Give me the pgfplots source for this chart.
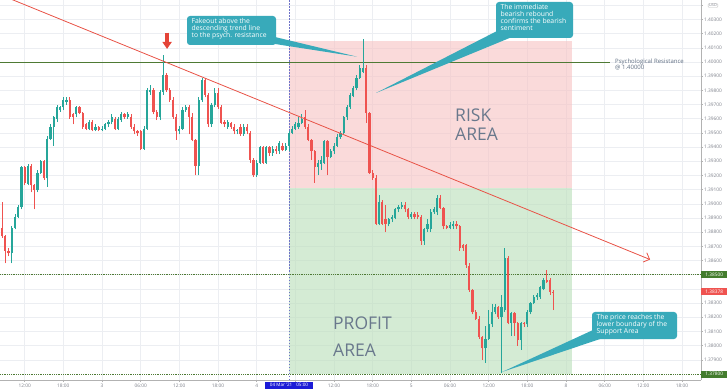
\documentclass[border=0pt]{standalone}
\usepackage{pgfplots}
\pgfplotsset{compat=1.18}
\usepackage{pgfplotstable}
\usepackage{fontspec}
\setmainfont{Open Sans}
\usetikzlibrary{arrows.meta}

\definecolor{cgreen}{RGB}{38,166,154}
\definecolor{cred}{RGB}{239,83,80}
\definecolor{riskfill}{RGB}{247,196,196}
\definecolor{profitfill}{RGB}{186,222,186}
\definecolor{levelgreen}{RGB}{78,122,52}
\definecolor{lblgreen}{RGB}{67,124,45}
\definecolor{trendred}{RGB}{232,82,70}
\definecolor{arrowred}{RGB}{228,68,56}
\definecolor{callout}{RGB}{56,170,186}
\definecolor{areatext}{RGB}{105,120,140}
\definecolor{psych}{RGB}{95,110,130}
\definecolor{tickgray}{RGB}{125,128,138}
\definecolor{gridc}{RGB}{236,238,242}
\definecolor{xhair}{RGB}{28,28,215}
\definecolor{xhairline}{RGB}{110,115,200}

\pgfplotstableread{
x o h l c
3 1.3865 1.3884 1.3858 1.3883
4 1.3883 1.3893 1.3882 1.3891
5 1.3891 1.3899 1.3890 1.3898
6 1.3898 1.3927 1.3896 1.3926
8 1.3914 1.3928 1.3913 1.3927
11 1.3910 1.3924 1.3908 1.3922
12 1.3922 1.3931 1.3921 1.3930
14 1.3918 1.3948 1.3912 1.3946
15 1.3946 1.3956 1.3945 1.3954
16 1.3954 1.3962 1.3941 1.3961
17 1.3960 1.3970 1.3958 1.3968
18 1.3966 1.3969 1.3965 1.3968
19 1.3968 1.3975 1.3966 1.3973
20 1.3972 1.3975 1.3970 1.3973
23 1.3963 1.3969 1.3961 1.3968
27 1.3953 1.3959 1.3952 1.3958
29 1.3952 1.3956 1.3951 1.3954
31 1.3952 1.3955 1.3951 1.3953
32 1.3953 1.3957 1.3952 1.3956
33 1.3956 1.3959 1.3954 1.3958
34 1.3958 1.3963 1.3956 1.3961
36 1.3953 1.3961 1.3952 1.3960
37 1.3959 1.3965 1.3958 1.3963
39 1.3961 1.3965 1.3960 1.3963
44 1.3939 1.3955 1.3938 1.3953
45 1.3953 1.3982 1.3952 1.3980
46 1.3979 1.3984 1.3977 1.3980
49 1.3961 1.3980 1.3959 1.3979
50 1.3979 1.4005 1.3977 1.3991
55 1.3951 1.3955 1.3949 1.3953
56 1.3953 1.3968 1.3952 1.3966
57 1.3966 1.3970 1.3965 1.3968
61 1.3927 1.3975 1.3920 1.3973
62 1.3973 1.3989 1.3972 1.3987
65 1.3956 1.3971 1.3954 1.3970
66 1.3970 1.3982 1.3968 1.3978
70 1.3954 1.3959 1.3953 1.3958
73 1.3951 1.3953 1.3949 1.3952
75 1.3949 1.3956 1.3948 1.3954
79 1.3920 1.3931 1.3919 1.3929
80 1.3929 1.3941 1.3928 1.3940
82 1.3929 1.3941 1.3928 1.3940
84 1.3936 1.3941 1.3934 1.3939
86 1.3937 1.3944 1.3935 1.3943
88 1.3938 1.3943 1.3937 1.3941
89 1.3941 1.3951 1.3937 1.3950
90 1.3950 1.3955 1.3949 1.3953
91 1.3953 1.3958 1.3952 1.3956
92 1.3954 1.3961 1.3953 1.3957
93 1.3957 1.3963 1.3956 1.3960
98 1.3926 1.3931 1.3920 1.3929
99 1.3928 1.3934 1.3924 1.3931
100 1.3929 1.3945 1.3928 1.3944
102 1.3933 1.3939 1.3932 1.3937
103 1.3937 1.3943 1.3935 1.3941
104 1.3941 1.3949 1.3940 1.3947
105 1.3947 1.3951 1.3946 1.3950
106 1.3950 1.3962 1.3949 1.3961
107 1.3961 1.3970 1.3959 1.3968
108 1.3968 1.3978 1.3967 1.3977
109 1.3976 1.3983 1.3975 1.3982
110 1.3982 1.3991 1.3980 1.3989
111 1.3989 1.3998 1.3988 1.3996
112 1.3993 1.4016 1.3992 1.3996
117 1.3886 1.3906 1.3885 1.3901
120 1.3886 1.3890 1.3884 1.3889
121 1.3889 1.3892 1.3887 1.3891
122 1.3890 1.3897 1.3889 1.3896
123 1.3896 1.3899 1.3894 1.3898
124 1.3898 1.3901 1.3896 1.3899
127 1.3891 1.3894 1.3889 1.3893
131 1.3874 1.3883 1.3871 1.3882
132 1.3882 1.3889 1.3880 1.3886
133 1.3882 1.3896 1.3880 1.3894
134 1.3894 1.3898 1.3893 1.3896
135 1.3894 1.3906 1.3892 1.3904
139 1.3883 1.3887 1.3882 1.3885
140 1.3884 1.3888 1.3882 1.3886
150 1.3798 1.3814 1.3788 1.3805
151 1.3805 1.3825 1.3804 1.3815
152 1.3815 1.3829 1.3813 1.3824
153 1.3824 1.3829 1.3822 1.3827
155 1.3820 1.3836 1.3781 1.3827
156 1.3825 1.3869 1.3824 1.3862
158 1.3816 1.3824 1.3807 1.3823
161 1.3804 1.3817 1.3797 1.3816
163 1.3815 1.3825 1.3813 1.3824
164 1.3824 1.3831 1.3822 1.3830
165 1.3830 1.3836 1.3829 1.3834
166 1.3834 1.3837 1.3832 1.3836
167 1.3834 1.3842 1.3833 1.3841
168 1.3840 1.3848 1.3839 1.3846
}\greentab

\pgfplotstableread{
x o h l c
0 1.3883 1.3901 1.3876 1.3877
1 1.3877 1.3878 1.3858 1.3867
2 1.3867 1.3869 1.3863 1.3865
7 1.3926 1.3927 1.3913 1.3915
9 1.3927 1.3928 1.3908 1.3913
10 1.3913 1.3914 1.3896 1.3910
13 1.3930 1.3931 1.3917 1.3918
21 1.3973 1.3975 1.3960 1.3961
22 1.3963 1.3964 1.3956 1.3961
24 1.3968 1.3969 1.3963 1.3964
25 1.3964 1.3965 1.3953 1.3954
26 1.3956 1.3957 1.3952 1.3953
28 1.3958 1.3959 1.3951 1.3952
30 1.3954 1.3955 1.3951 1.3952
35 1.3960 1.3961 1.3952 1.3953
38 1.3963 1.3964 1.3960 1.3961
40 1.3961 1.3963 1.3953 1.3954
41 1.3954 1.3956 1.3949 1.3951
42 1.3951 1.3952 1.3948 1.3950
43 1.3951 1.3952 1.3938 1.3939
47 1.3980 1.3982 1.3963 1.3965
48 1.3965 1.3966 1.3959 1.3961
51 1.3991 1.3992 1.3979 1.3980
52 1.3980 1.3982 1.3972 1.3973
53 1.3973 1.3975 1.3960 1.3961
54 1.3961 1.3963 1.3945 1.3951
58 1.3968 1.3970 1.3949 1.3961
59 1.3961 1.3964 1.3944 1.3945
60 1.3945 1.3946 1.3920 1.3927
63 1.3987 1.3989 1.3975 1.3977
64 1.3977 1.3978 1.3954 1.3956
67 1.3978 1.3982 1.3967 1.3968
68 1.3968 1.3970 1.3956 1.3957
69 1.3958 1.3959 1.3954 1.3956
71 1.3957 1.3958 1.3953 1.3954
72 1.3954 1.3956 1.3949 1.3951
74 1.3954 1.3956 1.3948 1.3949
76 1.3954 1.3956 1.3949 1.3951
77 1.3950 1.3951 1.3929 1.3931
78 1.3931 1.3932 1.3919 1.3920
81 1.3940 1.3941 1.3928 1.3929
83 1.3940 1.3941 1.3934 1.3936
85 1.3939 1.3941 1.3935 1.3937
87 1.3941 1.3943 1.3937 1.3938
94 1.3961 1.3966 1.3953 1.3954
95 1.3954 1.3956 1.3944 1.3945
96 1.3945 1.3946 1.3931 1.3937
97 1.3937 1.3938 1.3915 1.3926
101 1.3944 1.3945 1.3920 1.3933
113 1.3996 1.3998 1.3957 1.3964
114 1.3964 1.3965 1.3921 1.3922
115 1.3922 1.3924 1.3917 1.3918
116 1.3918 1.3920 1.3885 1.3886
118 1.3901 1.3903 1.3885 1.3886
119 1.3889 1.3899 1.3880 1.3886
125 1.3899 1.3901 1.3894 1.3896
126 1.3896 1.3897 1.3889 1.3891
128 1.3893 1.3894 1.3889 1.3891
129 1.3892 1.3894 1.3889 1.3891
130 1.3891 1.3892 1.3871 1.3874
136 1.3904 1.3906 1.3896 1.3897
137 1.3897 1.3898 1.3882 1.3884
138 1.3884 1.3885 1.3882 1.3883
141 1.3886 1.3888 1.3882 1.3884
142 1.3884 1.3885 1.3867 1.3869
143 1.3871 1.3872 1.3867 1.3869
144 1.3871 1.3872 1.3855 1.3857
145 1.3856 1.3858 1.3838 1.3839
146 1.3839 1.3840 1.3822 1.3824
147 1.3824 1.3825 1.3818 1.3819
148 1.3819 1.3821 1.3805 1.3806
149 1.3806 1.3807 1.3790 1.3798
154 1.3827 1.3828 1.3819 1.3820
157 1.3862 1.3863 1.3815 1.3816
159 1.3823 1.3824 1.3807 1.3816
160 1.3816 1.3817 1.3800 1.3804
162 1.3816 1.3817 1.3813 1.3815
169 1.3846 1.3853 1.3844 1.3845
170 1.3846 1.3848 1.3836 1.3838
171 1.3838 1.3839 1.3825 1.38378
}\redtab

\begin{document}
\begin{tikzpicture}[x=1pt,y=1pt]
\begin{axis}[
  at={(0pt,0pt)}, anchor=south west,
  scale only axis, width=701pt, height=380pt,
  xmin=-0.65, xmax=216.9, ymin=1.377575, ymax=1.404372,
  axis x line*=bottom, axis y line*=right,
  axis line style={draw=black!30, line width=0.5pt},
  tick align=outside, major tick length=2.2pt,
  tick style={draw=black!30, line width=0.4pt},
  grid=major, major grid style={draw=gridc, line width=0.5pt},
  xtick={7,19,31,43,55,67,79,91,103,115,127,139,151,163,175,187,199,211},
  xticklabels={12:00,18:00,3,06:00,12:00,18:00,4,,12:00,18:00,5,06:00,12:00,18:00,8,06:00,12:00,18:00},
  ytick={1.379,1.380,1.381,1.382,1.383,1.384,1.385,1.386,1.387,1.388,1.389,1.390,1.391,1.392,1.393,1.394,1.395,1.396,1.397,1.398,1.399,1.400,1.401,1.402,1.403,1.404},
  yticklabels={1.37900,1.38000,1.38100,1.38200,1.38300,,,1.38600,1.38700,1.38800,1.38900,1.39000,1.39100,1.39200,1.39300,1.39400,1.39500,1.39600,1.39700,1.39800,1.39900,1.40000,1.40100,1.40200,1.40300,},
  tick label style={font=\fontsize{4.8}{5}\selectfont, text=tickgray},
  xticklabel style={inner sep=0pt, yshift=-1.6pt},
  yticklabel style={inner sep=0pt, xshift=0.8pt},
  scaled y ticks=false,
]
% areas
\fill[riskfill, fill opacity=0.62] (axis cs:89,1.3911) rectangle (axis cs:176.9,1.4015);
\fill[profitfill, fill opacity=0.62] (axis cs:89,1.3780) rectangle (axis cs:176.9,1.3911);
% levels
\draw[levelgreen, line width=0.8pt] (axis cs:-0.65,1.4) -- (axis cs:188.7,1.4);
\draw[levelgreen, line width=0.6pt, dash pattern=on 0.7pt off 1.1pt] (axis cs:-0.65,1.385) -- (axis cs:216.9,1.385);
\draw[levelgreen, line width=0.6pt, dash pattern=on 0.7pt off 1.1pt] (axis cs:-0.65,1.378) -- (axis cs:216.9,1.378);
\draw[xhairline, line width=0.5pt, dash pattern=on 1.5pt off 1.5pt] (axis cs:89,1.377575) -- (axis cs:89,1.404372);
% candles: wicks
\addplot[draw=none, mark=none, forget plot, error bars/.cd, y dir=plus, y explicit, error mark=none,
  error bar style={draw=cgreen, line width=0.7pt}]
  table[x=x, y=l, y error plus expr={\thisrow{h}-\thisrow{l}}] {\greentab};
\addplot[draw=none, mark=none, forget plot, error bars/.cd, y dir=plus, y explicit, error mark=none,
  error bar style={draw=cred, line width=0.7pt}]
  table[x=x, y=l, y error plus expr={\thisrow{h}-\thisrow{l}}] {\redtab};
% candles: bodies
\addplot[draw=none, mark=none, forget plot, error bars/.cd, y dir=plus, y explicit, error mark=none,
  error bar style={draw=cgreen, line width=2.3pt}]
  table[x=x, y=o, y error plus expr={\thisrow{c}-\thisrow{o}}] {\greentab};
\addplot[draw=none, mark=none, forget plot, error bars/.cd, y dir=plus, y explicit, error mark=none,
  error bar style={draw=cred, line width=2.3pt}]
  table[x=x, y=c, y error plus expr={\thisrow{o}-\thisrow{c}}] {\redtab};
% trend line
\draw[trendred, line width=0.8pt, -{Straight Barb[length=5pt, width=10pt]}] (axis cs:-0.65,1.40475) -- (axis cs:201.1,1.38607);
% red marker arrow
\draw[arrowred, line width=3.6pt, -{Triangle[length=7pt, width=9pt]}] (axis cs:51.2,1.40208) -- (axis cs:51.2,1.40092);
\end{axis}

% area labels
\node[anchor=west, inner sep=0pt, text=areatext, font=\fontsize{17.5}{17.5}\selectfont] at (455,265) {RISK};
\node[anchor=west, inner sep=0pt, text=areatext, font=\fontsize{17.5}{17.5}\selectfont] at (455,246) {AREA};
\node[anchor=west, inner sep=0pt, text=areatext, font=\fontsize{17.5}{17.5}\selectfont] at (333,57) {PROFIT};
\node[anchor=west, inner sep=0pt, text=areatext, font=\fontsize{17.5}{17.5}\selectfont] at (333,30) {AREA};

% psychological resistance label
\node[anchor=west, inner sep=0pt, text=psych, font=\fontsize{6}{6}\selectfont] at (615,318.5) {Psychological Resistance};
\node[anchor=west, inner sep=0pt, text=psych, font=\fontsize{6}{6}\selectfont] at (615,312) {@ 1.40000};

% callout 1
\fill[callout] (275,343) -- (275,336) -- (357,323.3) -- cycle;
\fill[callout, rounded corners=3pt] (187,335) rectangle (276,364);
\node[anchor=north west, inner sep=0pt, align=left, text=white, font=\fontsize{6.8}{6.9}\selectfont] at (191.5,361.5) {Fakeout above the\\descending trend line\\to the psych. resistance};

% callout 2
\fill[callout] (497,349) -- (512,343) -- (376,287) -- cycle;
\fill[callout, rounded corners=3pt] (496,342) rectangle (573,378);
\node[anchor=north west, inner sep=0pt, align=left, text=white, font=\fontsize{6.8}{7}\selectfont] at (500.5,376) {The immediate\\bearish rebound\\confirms the bearish\\sentiment};

% callout 3
\fill[callout] (593,50) -- (603,42) -- (502,8) -- cycle;
\fill[callout, rounded corners=3pt] (592,41) rectangle (677,68);
\node[anchor=north west, inner sep=0pt, align=left, text=white, font=\fontsize{6.8}{7}\selectfont] at (596.5,65.5) {The price reaches the\\lower boundary of the\\Support Area};

% price labels on the right
\node[fill=lblgreen, text=white, font=\fontsize{4.8}{5}\selectfont, inner sep=0pt, minimum width=26pt, minimum height=7pt, anchor=west] at (701,105) {1.38500};
\node[fill=cred, text=white, font=\fontsize{4.8}{5}\selectfont, inner sep=0pt, minimum width=26pt, minimum height=7pt, anchor=west] at (701,88) {1.38378};
\node[fill=lblgreen, text=white, font=\fontsize{4.8}{5}\selectfont, inner sep=0pt, minimum width=26pt, minimum height=7pt, anchor=west] at (701,6) {1.37800};
\node[fill=white, draw=black!25, rounded corners=1pt, text=tickgray, font=\fontsize{3.8}{4}\selectfont, inner xsep=1pt, inner ysep=0.6pt] at (713,374.5) {USD};

% crosshair time label
\node[fill=xhair, text=white, font=\fontsize{4.6}{5}\selectfont, inner sep=0pt, minimum width=48pt, minimum height=6.5pt] at (289,-5.3) {04 Mar '21\hspace{4pt}05:00};

\pgfresetboundingbox
\path[use as bounding box] (0,-11) rectangle (728,380);
\end{tikzpicture}
\end{document}
